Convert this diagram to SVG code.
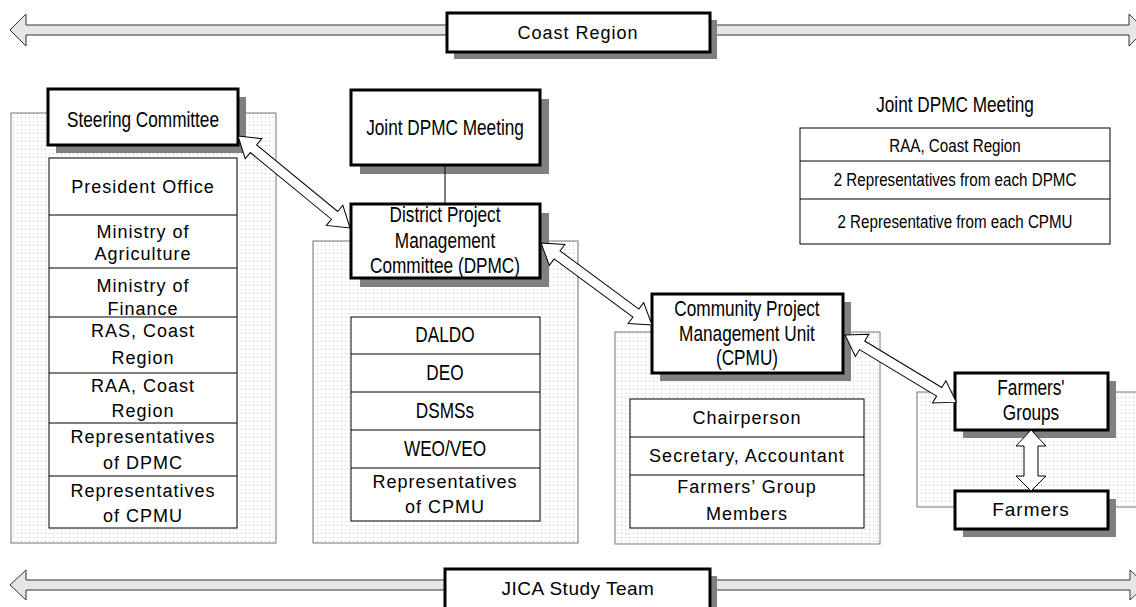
<svg xmlns="http://www.w3.org/2000/svg" width="1136" height="607" viewBox="0 0 1136 607">
  <defs>
    <pattern id="dots" width="4" height="4" patternUnits="userSpaceOnUse">
      <rect width="4" height="4" fill="#ffffff"/>
      <rect x="1" y="1" width="1" height="1" fill="#c4c4c4"/>
    </pattern>
    <style>
      .zone { fill: url(#dots); stroke: #777; stroke-width: 1; }
      .shadow { fill: #808080; }
      .box { fill: #fff; stroke: #000; stroke-width: 3; }
      .list { fill: #fff; stroke: #000; stroke-width: 1; }
      .div { stroke: #000; stroke-width: 1; }
      .band { fill: #e6e6e6; stroke: #333; stroke-width: 1; }
      .dbl { fill: #fff; stroke: #000; stroke-width: 1; }
      .nar { font-family: "Liberation Sans", Arial, sans-serif; font-size: 22.5px; fill: #000; text-anchor: middle; }
      .tbl { font-size: 18.5px; }
      .got { font-family: "Liberation Sans", Arial, sans-serif; font-size: 18px; letter-spacing: 1px; fill: #000; text-anchor: middle; }
    </style>
  </defs>
  <rect width="1136" height="607" fill="#fff"/>

  <!-- horizontal bands -->
  <g id="band-top">
    <polygon class="band" points="10,30 26,14 26,25 1129,25 1129,14 1145,30 1129,46 1129,35 26,35 26,46"/>
    <rect class="shadow" x="454" y="20" width="263" height="39"/>
    <rect class="box" x="447" y="13" width="263" height="39"/>
    <text class="got" x="578" y="39">Coast Region</text>
  </g>
  <g id="band-bottom">
    <polygon class="band" points="10,585 26,570 26,580 1130,580 1130,570 1146,585 1130,600 1130,590 26,590 26,600"/>
    <rect class="shadow" x="452" y="576" width="265" height="45"/>
    <rect class="box" x="445" y="569" width="265" height="45"/>
    <text class="got" x="578" y="595" style="font-size:19px;letter-spacing:0.5px">JICA Study Team</text>
  </g>

  <!-- tier 1: steering committee -->
  <g id="steering">
    <rect class="zone" x="11" y="113" width="265" height="430"/>
    <rect class="shadow" x="56" y="97" width="190" height="56"/>
    <rect class="box" x="48" y="89" width="190" height="56"/>
    <text class="nar" transform="translate(143 127) scale(0.765 1)">Steering Committee</text>
    <rect class="list" x="49" y="158" width="188" height="370"/>
    <line class="div" x1="49" y1="215" x2="237" y2="215"/>
    <line class="div" x1="49" y1="268" x2="237" y2="268"/>
    <line class="div" x1="49" y1="317" x2="237" y2="317"/>
    <line class="div" x1="49" y1="373" x2="237" y2="373"/>
    <line class="div" x1="49" y1="423" x2="237" y2="423"/>
    <line class="div" x1="49" y1="476" x2="237" y2="476"/>
    <text class="got" x="143" y="193">President Office</text>
    <text class="got" x="143" y="238">Ministry of</text>
    <text class="got" x="143" y="260">Agriculture</text>
    <text class="got" x="143" y="292">Ministry of</text>
    <text class="got" x="143" y="315">Finance</text>
    <text class="got" x="143" y="337">RAS, Coast</text>
    <text class="got" x="143" y="364">Region</text>
    <text class="got" x="143" y="392">RAA, Coast</text>
    <text class="got" x="143" y="417">Region</text>
    <text class="got" x="143" y="443">Representatives</text>
    <text class="got" x="143" y="469">of DPMC</text>
    <text class="got" x="143" y="497">Representatives</text>
    <text class="got" x="143" y="522">of CPMU</text>
  </g>

  <!-- tier 2: joint meeting and DPMC -->
  <g id="joint-dpmc">
    <rect class="shadow" x="360" y="99" width="189" height="75"/>
    <rect class="box" x="351" y="90" width="189" height="75"/>
    <text class="nar" transform="translate(445 135) scale(0.765 1)">Joint DPMC Meeting</text>
  </g>
  <g id="dpmc">
    <rect class="zone" x="313" y="241" width="265" height="302"/>
    <rect class="shadow" x="360" y="213" width="189" height="74"/>
    <rect class="box" x="351" y="204" width="189" height="74"/>
    <text class="nar" transform="translate(445 222) scale(0.765 1)">District Project</text>
    <text class="nar" transform="translate(445 248) scale(0.765 1)">Management</text>
    <text class="nar" transform="translate(445 273) scale(0.765 1)">Committee (DPMC)</text>
    <rect class="list" x="351" y="317" width="189" height="204"/>
    <line class="div" x1="351" y1="354" x2="540" y2="354"/>
    <line class="div" x1="351" y1="392" x2="540" y2="392"/>
    <line class="div" x1="351" y1="430" x2="540" y2="430"/>
    <line class="div" x1="351" y1="468" x2="540" y2="468"/>
    <text class="nar" transform="translate(445 342) scale(0.765 1)">DALDO</text>
    <text class="nar" transform="translate(445 380) scale(0.765 1)">DEO</text>
    <text class="nar" transform="translate(445 418) scale(0.765 1)">DSMSs</text>
    <text class="nar" transform="translate(445 456) scale(0.765 1)">WEO/VEO</text>
    <text class="got" x="445" y="488">Representatives</text>
    <text class="got" x="445" y="513">of CPMU</text>
  </g>

  <!-- tier 3: CPMU -->
  <g id="cpmu">
    <rect class="zone" x="615" y="332" width="265" height="212"/>
    <rect class="shadow" x="660" y="302" width="191" height="79"/>
    <rect class="box" x="652" y="294" width="191" height="79"/>
    <text class="nar" transform="translate(747 316) scale(0.765 1)">Community Project</text>
    <text class="nar" transform="translate(747 341) scale(0.765 1)">Management Unit</text>
    <text class="nar" transform="translate(747 365) scale(0.765 1)">(CPMU)</text>
    <rect class="list" x="630" y="399" width="234" height="129"/>
    <line class="div" x1="630" y1="437" x2="864" y2="437"/>
    <line class="div" x1="630" y1="475" x2="864" y2="475"/>
    <text class="got" x="747" y="424">Chairperson</text>
    <text class="got" x="747" y="462">Secretary, Accountant</text>
    <text class="got" x="747" y="493">Farmers’ Group</text>
    <text class="got" x="747" y="520">Members</text>
  </g>

  <!-- tier 4: farmers -->
  <g id="farmers-groups">
    <rect class="zone" x="917" y="392" width="225" height="115"/>
    <rect class="shadow" x="963" y="381" width="153" height="57"/>
    <rect class="box" x="955" y="373" width="153" height="57"/>
    <text class="nar" transform="translate(1031 395) scale(0.765 1)">Farmers'</text>
    <text class="nar" transform="translate(1031 420) scale(0.765 1)">Groups</text>
  </g>
  <g id="farmers">
    <rect class="shadow" x="963" y="499" width="153" height="38"/>
    <rect class="box" x="955" y="491" width="153" height="38"/>
    <text class="got" x="1031" y="516" style="font-size:19px">Farmers</text>
  </g>

  <!-- joint meeting membership -->
  <g id="joint-members">
    <text class="nar" transform="translate(955 112) scale(0.765 1)">Joint DPMC Meeting</text>
    <rect class="list" x="800" y="128" width="310" height="116"/>
    <line class="div" x1="800" y1="161" x2="1110" y2="161"/>
    <line class="div" x1="800" y1="199" x2="1110" y2="199"/>
    <text class="nar tbl" transform="translate(955 152) scale(0.82 1)">RAA, Coast Region</text>
    <text class="nar tbl" transform="translate(955 186) scale(0.82 1)">2 Representatives from each DPMC</text>
    <text class="nar tbl" transform="translate(955 228) scale(0.82 1)">2 Representative from each CPMU</text>
  </g>

  <!-- connectors -->
  <g id="connectors">
    <line x1="445" y1="165" x2="445" y2="204" stroke="#000" stroke-width="1"/>
    <polygon class="dbl" transform="translate(238,136) rotate(39.4)" points="0,0 20,-13 20,-5 125,-5 125,-13 145,0 125,13 125,5 20,5 20,13"/>
    <polygon class="dbl" transform="translate(541,243) rotate(36.45)" points="0,0 20,-13 20,-5 118,-5 118,-13 138,0 118,13 118,5 20,5 20,13"/>
    <polygon class="dbl" transform="translate(845,335) rotate(31.1)" points="0,0 20,-13 20,-5 110,-5 110,-13 130,0 110,13 110,5 20,5 20,13"/>
    <polygon class="dbl" points="1031,430 1046,446 1038,446 1038,476 1046,476 1031,491 1016,476 1024,476 1024,446 1016,446"/>
  </g>
</svg>
